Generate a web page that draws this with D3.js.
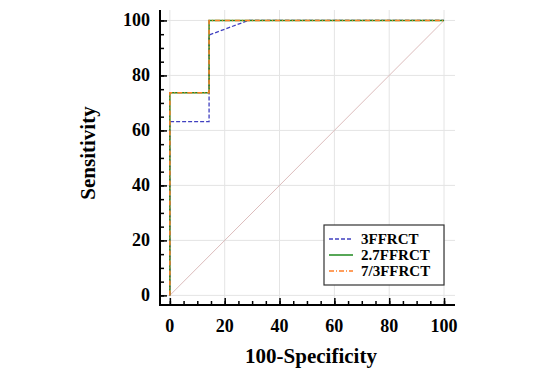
<!DOCTYPE html>
<html lang="en">
<head>
<meta charset="utf-8">
<title>ROC curves</title>
<script src="https://cdn.jsdelivr.net/npm/d3@7"></script>
<style>
  body { margin: 0; background: #fff; }
  text { font-family: "Liberation Serif", "Times New Roman", serif; font-weight: bold; }
</style>
</head>
<body>
<script>
// data
var fpr3 = [0, 0, 14.3, 14.3, 28.6, 100];
var sens3 = [0, 63.2, 63.2, 94.7, 100, 100];
var fpr27 = [0, 0, 14.3, 14.3, 100];
var sens27 = [0, 73.7, 73.7, 100, 100];
var fpr73 = [0, 0, 14.3, 14.3, 100];
var sens73 = [0, 73.7, 73.7, 100, 100];
var seriesNames = ["3FFRCT", "2.7FFRCT", "7/3FFRCT"];
var tickVals = [0, 20, 40, 60, 80, 100];

var w = 556, h = 377;
var pLeft = 160, pRight = 455, pTop = 10, pBottom = 305;

var svg = d3.select("body").append("svg").attr("width", w).attr("height", h);

var x = d3.scaleLinear().domain([-3.6, 104]).range([pLeft, pRight]);
var y = d3.scaleLinear().domain([-3.5, 103.8]).range([pBottom, pTop]);

// grid
svg.append("g").selectAll("line").data(tickVals).enter().append("line")
  .attr("x1", function(d) { return x(d); }).attr("x2", function(d) { return x(d); })
  .attr("y1", pTop).attr("y2", pBottom)
  .attr("stroke", "#e4e4e4").attr("stroke-width", 1);
svg.append("g").selectAll("line").data(tickVals).enter().append("line")
  .attr("y1", function(d) { return y(d); }).attr("y2", function(d) { return y(d); })
  .attr("x1", pLeft).attr("x2", pRight)
  .attr("stroke", "#e4e4e4").attr("stroke-width", 1);

// diagonal
svg.append("line")
  .attr("x1", x(0)).attr("y1", y(0)).attr("x2", x(100)).attr("y2", y(100))
  .attr("stroke", "#dcbcbc").attr("stroke-width", 1);

// axes
var minor = d3.range(0, 101, 5);
var xAxis = d3.axisTop(x).tickValues(tickVals).tickSize(7).tickFormat("");
var xMinor = d3.axisTop(x).tickValues(minor).tickSize(4).tickFormat("");
var yAxis = d3.axisRight(y).tickValues(tickVals).tickSize(7).tickFormat("");
var yMinor = d3.axisRight(y).tickValues(minor).tickSize(4).tickFormat("");

[xMinor, xAxis].forEach(function(a) {
  var g = svg.append("g").attr("transform", "translate(0," + pBottom + ")").call(a);
  g.select(".domain").attr("d", "M" + pLeft + ",0H" + pRight).attr("stroke", "#000").attr("stroke-width", 2);
  g.selectAll(".tick line").attr("stroke", "#000").attr("stroke-width", 1.5);
});
[yMinor, yAxis].forEach(function(a) {
  var g = svg.append("g").attr("transform", "translate(" + pLeft + ",0)").call(a);
  g.select(".domain").attr("d", "M0," + pTop + "V" + (pBottom + 1)).attr("stroke", "#000").attr("stroke-width", 2);
  g.selectAll(".tick line").attr("stroke", "#000").attr("stroke-width", 1.5);
});

// tick labels
svg.append("g").selectAll("text").data(tickVals).enter().append("text")
  .attr("x", function(d) { return x(d); }).attr("y", 332)
  .attr("text-anchor", "middle").attr("font-size", "18px")
  .text(function(d) { return d; });
svg.append("g").selectAll("text").data(tickVals).enter().append("text")
  .attr("x", 150).attr("y", function(d) { return y(d) + 6; })
  .attr("text-anchor", "end").attr("font-size", "18px")
  .text(function(d) { return d; });

// axis titles
svg.append("text").attr("x", 311).attr("y", 363).attr("text-anchor", "middle")
  .attr("font-size", "21px").text("100-Specificity");
svg.append("text").attr("transform", "translate(95,153) rotate(-90)")
  .attr("text-anchor", "middle").attr("font-size", "21px").text("Sensitivity");

// curves
var line = d3.line().x(function(d) { return x(d[0]); }).y(function(d) { return y(d[1]); });
var styles = [
  { color: "#4040c0", dash: "4,2", width: 1.3 },
  { color: "#1f8a1f", dash: null, width: 1.5 },
  { color: "#ff7f27", dash: "5,2,1,2", width: 1.5 }
];
var series = [d3.zip(fpr3, sens3), d3.zip(fpr27, sens27), d3.zip(fpr73, sens73)];
series.forEach(function(s, i) {
  svg.append("path").datum(s).attr("d", line)
    .attr("fill", "none").attr("stroke", styles[i].color)
    .attr("stroke-width", styles[i].width)
    .attr("stroke-dasharray", styles[i].dash);
});

// legend
var lg = svg.append("g");
lg.append("rect").attr("x", 324).attr("y", 225).attr("width", 120).attr("height", 60)
  .attr("fill", "#fff").attr("stroke", "#333").attr("stroke-width", 1.2);
seriesNames.forEach(function(n, i) {
  var yy = 239 + i * 16;
  lg.append("line").attr("x1", 329).attr("x2", 353).attr("y1", yy).attr("y2", yy)
    .attr("stroke", styles[i].color).attr("stroke-width", styles[i].width)
    .attr("stroke-dasharray", styles[i].dash);
  lg.append("text").attr("x", 361).attr("y", yy + 5).attr("font-size", "15px").text(n);
});
</script>
</body>
</html>
